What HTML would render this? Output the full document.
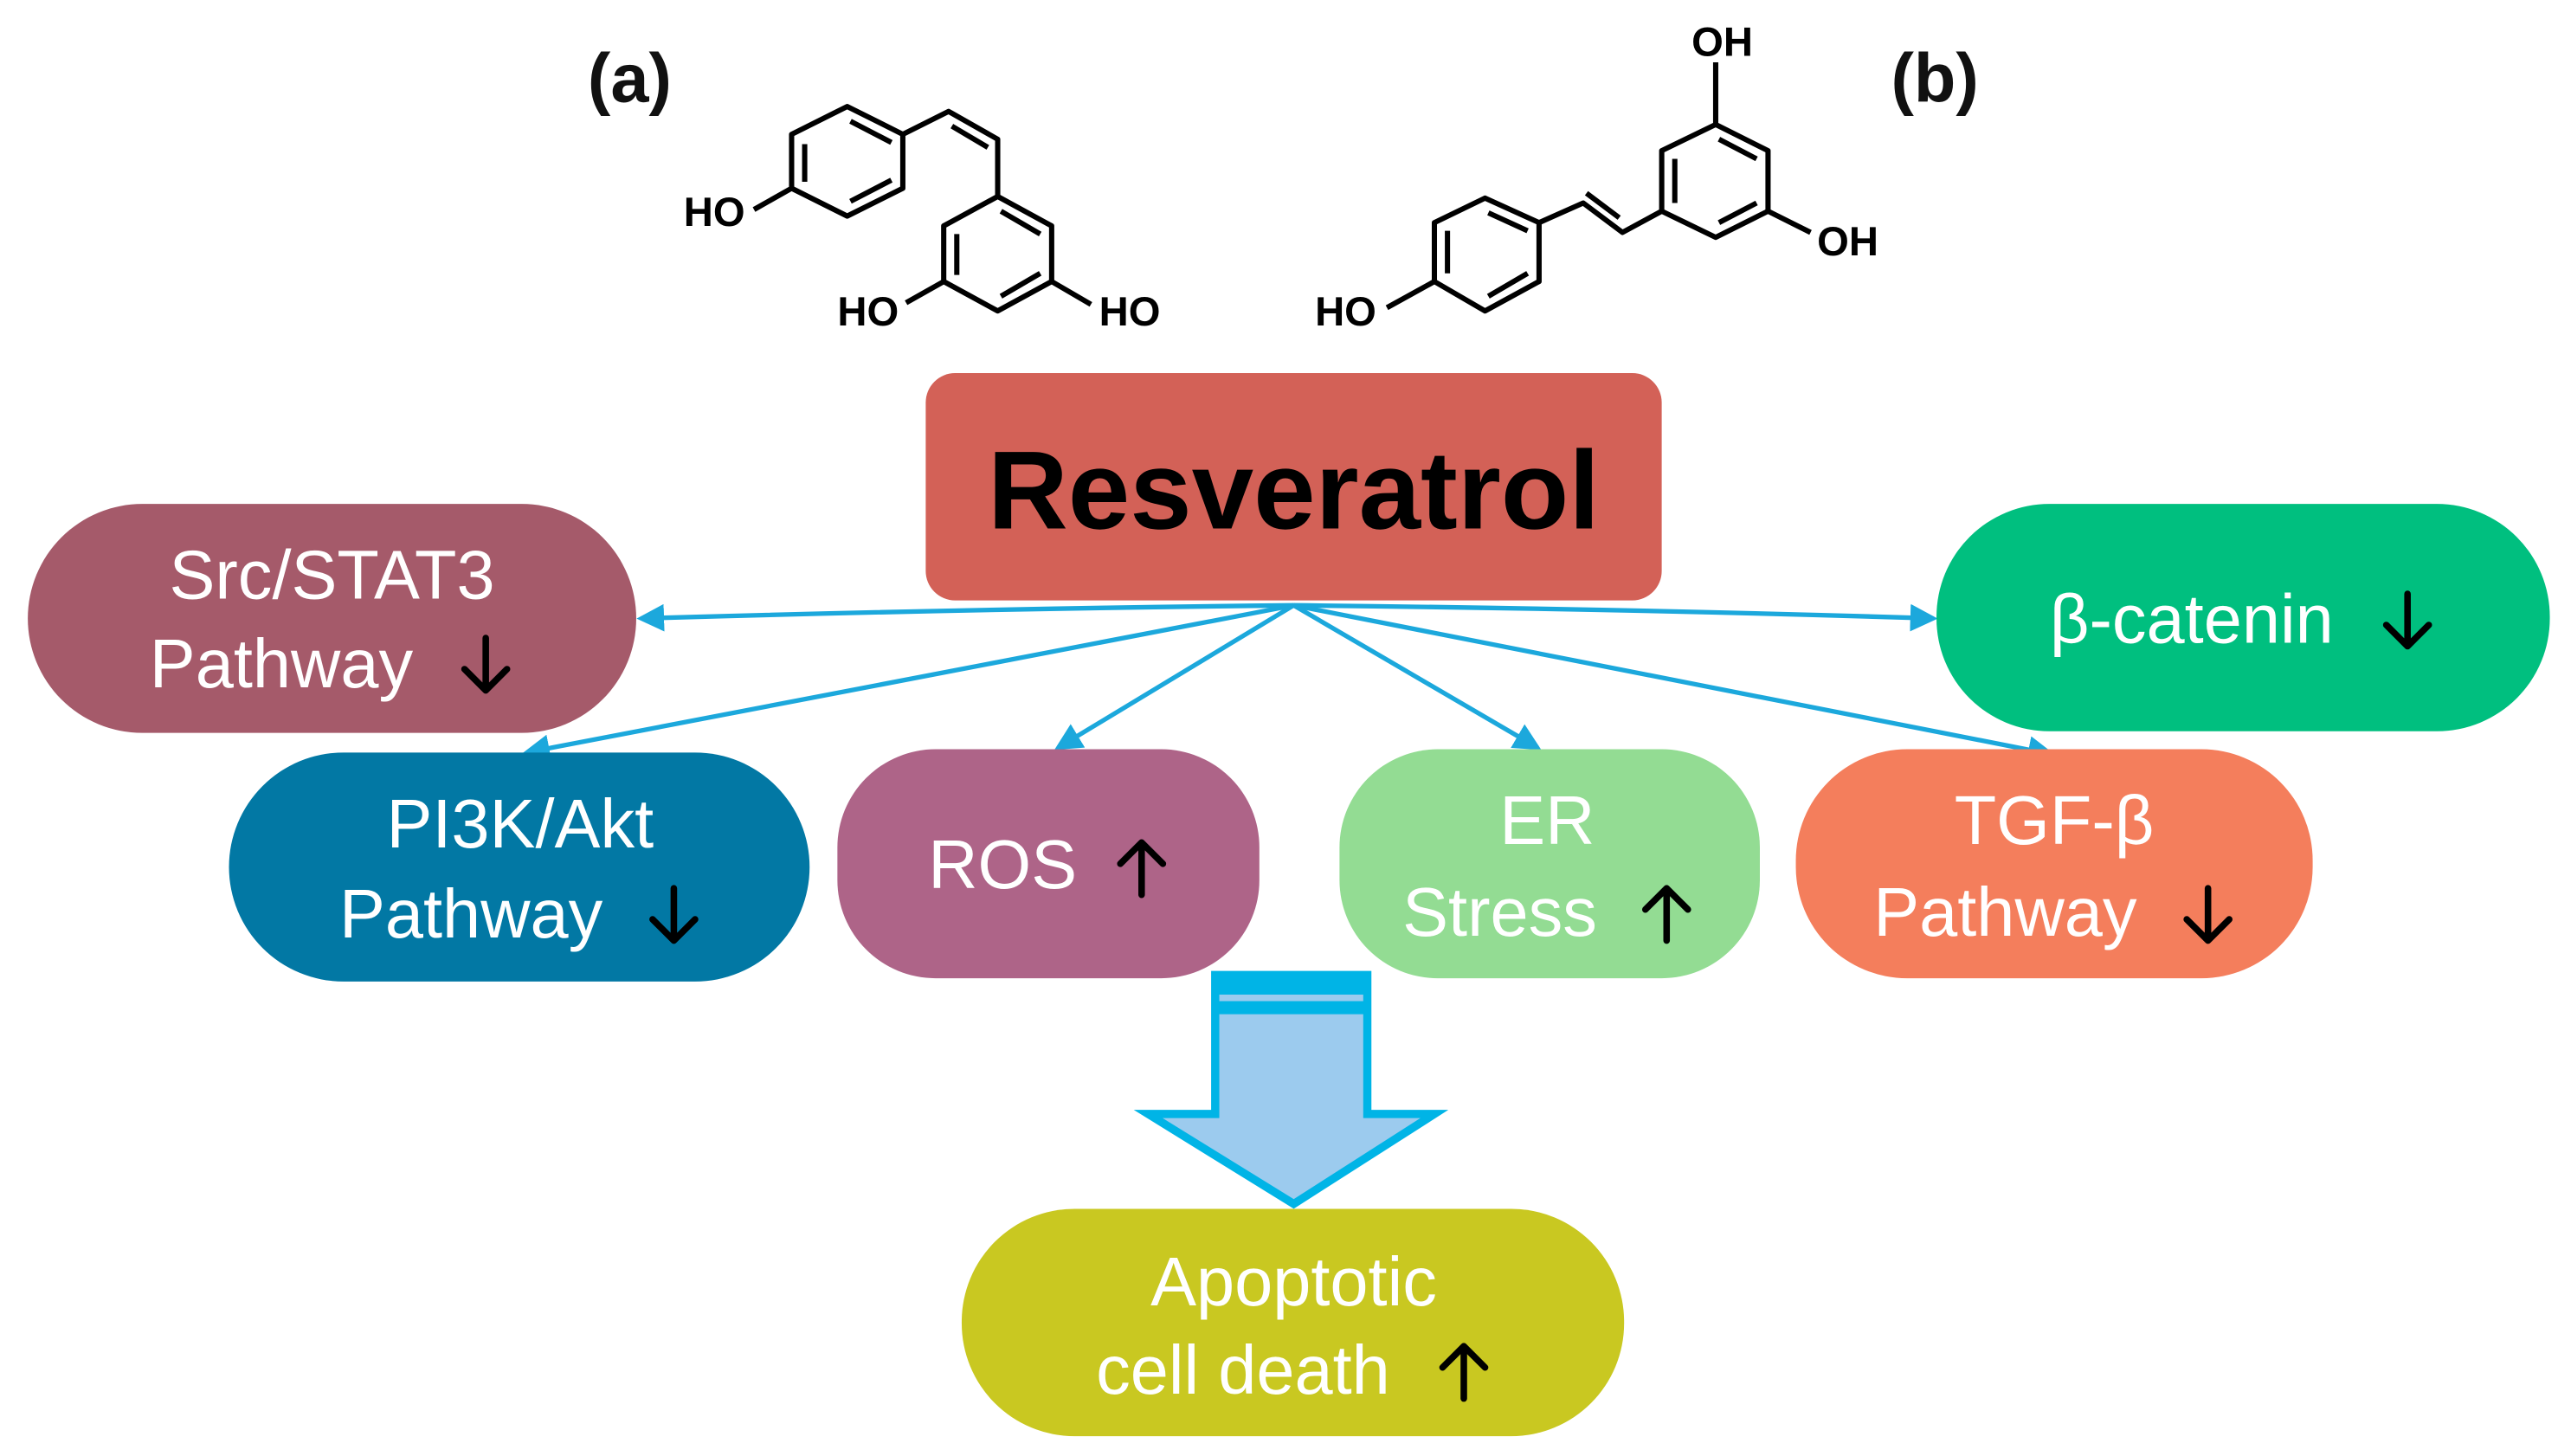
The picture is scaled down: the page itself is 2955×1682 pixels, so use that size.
<!DOCTYPE html>
<html><head><meta charset="utf-8"><style>
html,body{margin:0;padding:0;background:#fff;}
svg{display:block;}
text{font-family:"Liberation Sans",sans-serif;}
</style></head><body>
<svg width="2955" height="1682" viewBox="0 0 1564 890" xmlns="http://www.w3.org/2000/svg">
<defs>
<marker id="ah" markerWidth="6" markerHeight="6" refX="5" refY="3" orient="auto" markerUnits="strokeWidth">
<path d="M0,0 L6,3 L0,6 z" fill="#1ca8dc"/></marker>
</defs>
<rect width="1564" height="890" fill="#fff"/>
<text x="385" y="62" font-size="42" font-weight="bold" text-anchor="middle" fill="#111">(a)</text>
<text x="1183" y="62" font-size="42" font-weight="bold" text-anchor="middle" fill="#111">(b)</text>
<g stroke="#000" stroke-width="3.2" fill="none" stroke-linejoin="round">
<polygon points="518,65 552,82 552,115 518,132 484,115 484,82"/>
<line x1="492" y1="88" x2="492" y2="111"/><line x1="520" y1="74" x2="545" y2="87"/><line x1="520" y1="123" x2="545" y2="110"/>
<polyline points="552,82 580,68 610,85 610,120"/>
<line x1="582" y1="77" x2="604" y2="90"/>
<polygon points="610,120 643,138 643,172 610,190 577,172 577,138"/>
<line x1="585" y1="143" x2="585" y2="168"/><line x1="612" y1="129" x2="636" y2="143"/><line x1="612" y1="181" x2="636" y2="167"/>
<line x1="484" y1="115" x2="461" y2="128"/>
<line x1="577" y1="172" x2="554" y2="185"/>
<line x1="643" y1="172" x2="667" y2="186"/>
</g>
<g font-size="25" font-weight="bold" fill="#000">
<text x="418" y="138">HO</text><text x="512" y="199">HO</text><text x="672" y="199">HO</text>
</g>
<g stroke="#000" stroke-width="3.2" fill="none" stroke-linejoin="round">
<polygon points="1049,76 1081,92 1081,129 1049,145 1016,129 1016,92"/>
<line x1="1024" y1="97" x2="1024" y2="124"/><line x1="1051" y1="85" x2="1074" y2="97"/><line x1="1051" y1="136" x2="1074" y2="124"/>
<line x1="1049" y1="76" x2="1049" y2="38"/>
<line x1="1081" y1="129" x2="1107" y2="142"/>
<polyline points="1016,129 992,142 968,124 941,136"/>
<line x1="990" y1="133" x2="970" y2="118"/>
<polygon points="908,121 941,136 941,172 908,190 877,172 877,136"/>
<line x1="885" y1="141" x2="885" y2="167"/><line x1="910" y1="130" x2="934" y2="141"/><line x1="910" y1="181" x2="934" y2="167"/>
<line x1="877" y1="172" x2="848" y2="188"/>
</g>
<g font-size="25" font-weight="bold" fill="#000">
<text x="1053" y="34" text-anchor="middle">OH</text><text x="1111" y="156">OH</text><text x="804" y="199">HO</text>
</g>
<g stroke="#1ca8dc" stroke-width="2.8" fill="none" marker-end="url(#ah)">
<path d="M791,370 Q600,372 392,378"/>
<path d="M791,370 Q990,372 1182,378"/>
<line x1="791" y1="370" x2="322" y2="460"/>
<line x1="791" y1="370" x2="647" y2="457"/>
<line x1="791" y1="370" x2="940" y2="457"/>
<line x1="791" y1="370" x2="1254" y2="461"/>
</g>
<rect x="566" y="228" width="450" height="139" rx="18" fill="#d36157"/>
<text x="791" y="323" font-size="68" font-weight="bold" text-anchor="middle" fill="#000">Resveratrol</text>
<rect x="17" y="308" width="372" height="140" rx="70" fill="#a55a6a"/>
<rect x="1184" y="308" width="375" height="139" rx="69" fill="#00bf7f"/>
<rect x="140" y="460" width="355" height="140" rx="70" fill="#0278a4"/>
<rect x="512" y="458" width="258" height="140" rx="60" fill="#ae6488"/>
<rect x="819" y="458" width="257" height="140" rx="60" fill="#93dc93"/>
<rect x="1098" y="458" width="316" height="140" rx="68" fill="#f47e5c"/>
<rect x="588" y="739" width="405" height="139" rx="69" fill="#c9c821"/>
<path d="M743,596 L836,596 L836,681 L877,681 L791,736 L702,681 L743,681 Z" fill="#9ccbee" stroke="#00b4e6" stroke-width="5" stroke-linejoin="miter"/>
<rect x="741" y="596" width="96" height="12" fill="#00b4e6"/>
<rect x="741" y="612" width="96" height="8" fill="#00b4e6"/>
<g font-size="42" fill="#fff" text-anchor="middle">
<text x="203" y="366">Src/STAT3</text>
<text x="172" y="420">Pathway</text>
<text x="1340" y="393">β-catenin</text>
<text x="318" y="518">PI3K/Akt</text>
<text x="288" y="573">Pathway</text>
<text x="613" y="543">ROS</text>
<text x="946" y="516">ER</text>
<text x="917" y="572">Stress</text>
<text x="1256" y="516">TGF-β</text>
<text x="1226" y="572">Pathway</text>
<text x="791" y="798">Apoptotic</text>
<text x="760" y="852">cell death</text>
</g>
<g stroke="#000" stroke-width="4" fill="none" stroke-linecap="round" stroke-linejoin="round">
<path d="M297,390 V422 M284,409 L297,422 L310,409"/>
<path d="M1472,363 V395 M1459,382 L1472,395 L1485,382"/>
<path d="M412,543 V575 M399,562 L412,575 L425,562"/>
<path d="M1350,543 V575 M1337,562 L1350,575 L1363,562"/>
<path d="M698,547 V515 M685,528 L698,515 L711,528"/>
<path d="M1019,575 V543 M1006,556 L1019,543 L1032,556"/>
<path d="M895,855 V823 M882,836 L895,823 L908,836"/>
</g>
</svg>
</body></html>
